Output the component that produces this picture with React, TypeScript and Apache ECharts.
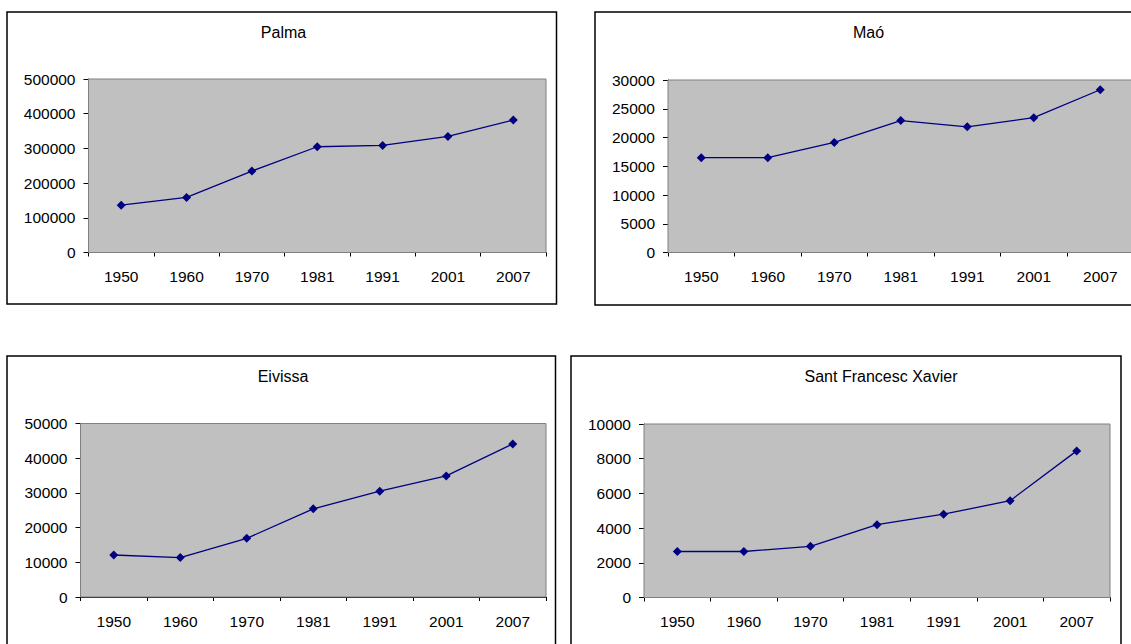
import React, { useEffect, useRef } from "react";
import * as echarts from "echarts";

const years = ["1950", "1960", "1970", "1981", "1991", "2001", "2007"];

const palmaValues = [136500, 158700, 234600, 304800, 308600, 334600, 381700];
const maoValues = [16500, 16500, 19150, 22950, 21850, 23450, 28300];
const eivissaValues = [12100, 11350, 16900, 25400, 30500, 34900, 44100];
const santFrancescValues = [2650, 2650, 2950, 4200, 4800, 5580, 8450];

const titles = ["Palma", "Maó", "Eivissa", "Sant Francesc Xavier"];
const axisMax = [500000, 30000, 50000, 10000];
const axisStep = [100000, 5000, 10000, 2000];

const panels = [
  { title: titles[0], values: palmaValues, max: axisMax[0], step: axisStep[0],
    grid: { left: 88.5, top: 79, width: 457.5, height: 173.5 },
    box: { x: 7, y: 12, width: 549.5, height: 292 }, tx: 283.5, ty: 32 },
  { title: titles[1], values: maoValues, max: axisMax[1], step: axisStep[1],
    grid: { left: 668, top: 80, width: 465.5, height: 172.5 },
    box: { x: 595, y: 12, width: 552, height: 293 }, tx: 868.5, ty: 32.5 },
  { title: titles[2], values: eivissaValues, max: axisMax[2], step: axisStep[2],
    grid: { left: 80.5, top: 423.5, width: 465.5, height: 173.5 },
    box: { x: 7, y: 356, width: 548.5, height: 320 }, tx: 283, ty: 376.5 },
  { title: titles[3], values: santFrancescValues, max: axisMax[3], step: axisStep[3],
    grid: { left: 644, top: 424, width: 466, height: 173.5 },
    box: { x: 571, y: 356, width: 550, height: 320 }, tx: 881, ty: 376.5 },
];

const FONT = "'Liberation Sans', Arial, sans-serif";

export default function App() {
  const ref = useRef<HTMLDivElement>(null);
  useEffect(() => {
    if (!ref.current) return;
    const chart = echarts.init(ref.current, undefined, { renderer: "svg" });
    const graphic: any[] = [];
    panels.forEach((p) => {
      graphic.push({
        type: "rect",
        z: 0,
        shape: { x: p.box.x, y: p.box.y, width: p.box.width, height: p.box.height },
        style: { fill: "#ffffff", stroke: "#000000", lineWidth: 1.5 },
        silent: true,
      });
      graphic.push({
        type: "text",
        z: 10,
        x: p.tx,
        y: p.ty,
        style: {
          text: p.title,
          fill: "#000000",
          font: `16px ${FONT}`,
          align: "center",
          verticalAlign: "middle",
          textAlign: "center",
          textVerticalAlign: "middle",
        },
        silent: true,
      });
    });
    const option: any = {
      animation: false,
      backgroundColor: "#ffffff",
      graphic: { elements: graphic },
      grid: panels.map((p) => ({
        ...p.grid,
        show: true,
        backgroundColor: "#C0C0C0",
        borderColor: "#808080",
        borderWidth: 1,
        z: 1,
      })),
      xAxis: panels.map((p, i) => ({
        type: "category",
        gridIndex: i,
        data: years,
        boundaryGap: true,
        axisLine: { show: true, lineStyle: { color: "#000000", width: 1 } },
        axisTick: { show: true, length: 4, lineStyle: { color: "#000000" } },
        axisLabel: { color: "#000000", fontSize: 15.5, fontFamily: FONT, margin: 16 },
        splitLine: { show: false },
      })),
      yAxis: panels.map((p, i) => {
        const n = Math.round(p.max / p.step) + 1;
        const colors = Array.from({ length: n }, (_, k) => (k === n - 1 ? "#808080" : "#000000"));
        return {
          type: "value",
          gridIndex: i,
          min: 0,
          max: p.max,
          interval: p.step,
          axisLine: { show: true, lineStyle: { color: "#000000", width: 1 } },
          axisTick: { show: true, length: 5, lineStyle: { color: "#000000" } },
          axisLabel: {
            color: "#000000",
            fontSize: 15.5,
            fontFamily: FONT,
            margin: 13,
            formatter: (v: number) => String(v),
          },
          splitLine: { show: true, lineStyle: { color: colors, width: 1 } },
        };
      }),
      series: panels.map((p, i) => ({
        type: "line",
        name: p.title,
        xAxisIndex: i,
        yAxisIndex: i,
        data: p.values,
        symbol: "diamond",
        symbolSize: 9,
        lineStyle: { color: "#000080", width: 1.3 },
        itemStyle: { color: "#000080" },
        z: 5,
      })),
    };
    chart.setOption(option);
    return () => chart.dispose();
  }, []);
  return (
    <div style={{ position: "fixed", left: 0, top: 0, width: 1131, height: 644, overflow: "hidden", background: "#fff" }}>
      <div ref={ref} style={{ width: 1160, height: 660 }} />
    </div>
  );
}
